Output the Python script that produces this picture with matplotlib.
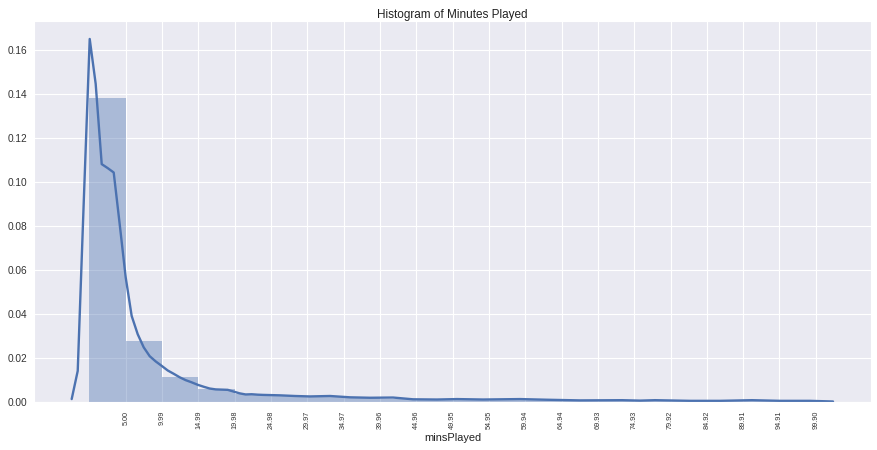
import numpy as np
import matplotlib
matplotlib.use("Agg")
import matplotlib.pyplot as plt
import seaborn as sns

sns.set_style("darkgrid")
plt.rcParams['font.family'] = ['Liberation Sans', 'DejaVu Sans']

# histogram (density) for 20 equal bins between 0.00 and 99.90
bin_lo, bin_hi, n_bins = 0.0, 99.9, 20
hist_density = [0.1380, 0.0278, 0.0114, 0.0059, 0.0034, 0.0024, 0.0022, 0.0019,
                0.0014, 0.0010, 0.0008, 0.0007, 0.0007, 0.0005, 0.0005, 0.0004,
                0.0003, 0.0003, 0.0004, 0.0003]

# KDE curve
kde_x = [-2.45, -1.62, -0.80, 0.03, 0.85, 1.68, 2.50, 3.33, 4.15, 4.98, 5.80,
         6.63, 7.46, 8.28, 9.11, 9.93, 10.76, 11.58, 12.41, 13.23, 14.06, 14.88,
         15.71, 16.53, 17.36, 18.18, 19.01, 19.83, 20.66, 21.48, 22.31, 23.14,
         23.87, 26.20, 28.27, 30.33, 33.08, 35.83, 38.58, 41.75, 44.50, 47.79,
         50.55, 54.13, 59.22, 62.93, 67.47, 73.25, 75.72, 77.79, 82.60, 86.73,
         91.13, 94.98, 99.11, 102.27]
kde_y = [0.0012, 0.0140, 0.0900, 0.1649, 0.1445, 0.1080, 0.1062, 0.1042, 0.0808,
         0.0565, 0.0390, 0.0307, 0.0247, 0.0207, 0.0183, 0.0163, 0.0142, 0.0127,
         0.0111, 0.0098, 0.0088, 0.0077, 0.0068, 0.0060, 0.0056, 0.0055, 0.0054,
         0.0046, 0.0038, 0.0033, 0.0034, 0.0032, 0.0031, 0.0029, 0.0026, 0.0024,
         0.0026, 0.0020, 0.0018, 0.0019, 0.0011, 0.0010, 0.0012, 0.0010, 0.0012,
         0.0009, 0.0006, 0.0007, 0.0005, 0.0007, 0.0004, 0.0004, 0.0007, 0.0004,
         0.0004, 0.0001]

tick_labels = ["5.00", "9.99", "14.99", "19.98", "24.98", "29.97", "34.97",
               "39.96", "44.96", "49.95", "54.95", "59.94", "64.94", "69.93",
               "74.93", "79.92", "84.92", "89.91", "94.91", "99.90"]

title = "Histogram of Minutes Played"
xlabel = "minsPlayed"

color = "#4C72B0"
edges = np.linspace(bin_lo, bin_hi, n_bins + 1)
width = edges[1] - edges[0]

fig = plt.figure(figsize=(8.77, 4.5), dpi=100)
ax = fig.add_axes([0.0388, 0.1073, 0.9544, 0.8467])

ax.bar(edges[:-1], hist_density, width=width, align='edge', color=color,
       alpha=0.4, linewidth=0)
ax.plot(kde_x, kde_y, color=color, lw=1.7)

ax.set_xticks(edges[1:])
ax.set_xticklabels(tick_labels, rotation=90, fontsize=5.2, color='#333333')
ax.tick_params(axis='x', length=0, pad=6.5)
ax.tick_params(axis='y', labelsize=7.3, length=0, pad=5, labelcolor='#333333')
yt = np.arange(0, 0.17, 0.02)
ax.set_yticks(yt)
ax.set_yticklabels([f"{v:.2f}" for v in yt])
ax.set_xlim(-7.63, 107.5)
ax.set_ylim(0, 0.1732)
ax.set_xlabel(xlabel, fontsize=7.9, labelpad=3, color='#222222')
ax.set_title(title, fontsize=8.5, pad=2.3, color='#222222')

fig.savefig("out.png", dpi=100)
